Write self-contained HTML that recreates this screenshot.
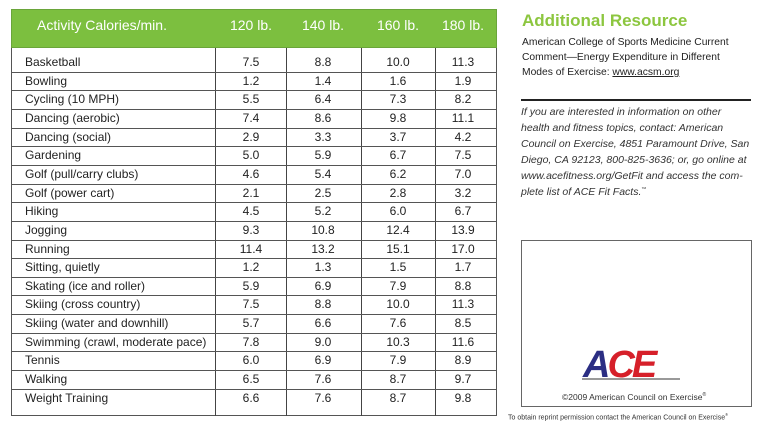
<!DOCTYPE html>
<html><head><style>
body{margin:0;width:768px;height:436px;background:#fff;position:relative;overflow:hidden;font-family:"Liberation Sans",sans-serif;color:#222}
.a{position:absolute;white-space:nowrap}
.hdr{position:absolute;left:11px;top:9px;width:486px;height:39px;background:#7cbf3f;border:1px solid #6aa53a;box-sizing:border-box}
.ht{position:absolute;top:17px;color:#fff;font-size:14px;transform:translateX(-50%)}
.tb{position:absolute;left:11px;top:48px;width:486px;height:368px;border:1px solid #555;border-top:none;box-sizing:border-box}
.vl{position:absolute;top:48px;height:368px;width:1px;background:#444}
.hl{position:absolute;left:11px;width:486px;height:1px;background:#555}
.c{position:absolute;font-size:12px;transform:translateX(-50%)}
.n{position:absolute;left:25px;font-size:12px}
.r{font-size:10.3px;color:#222;left:522px}
.i{font-size:10.5px;font-style:italic;color:#333;left:521px}
</style></head><body>
<div class="hdr"></div>
<div class="a ht" style="left:102px">Activity Calories/min.</div>
<div class="a ht" style="left:251px">120 lb.</div>
<div class="a ht" style="left:323px">140 lb.</div>
<div class="a ht" style="left:398px">160 lb.</div>
<div class="a ht" style="left:463px">180 lb.</div>
<div class="tb"></div>
<div class="vl" style="left:215px"></div>
<div class="vl" style="left:286px"></div>
<div class="vl" style="left:361px"></div>
<div class="vl" style="left:435px"></div>
<div id="rows"></div>
<script>
var d=[["Basketball","7.5","8.8","10.0","11.3"],["Bowling","1.2","1.4","1.6","1.9"],["Cycling (10 MPH)","5.5","6.4","7.3","8.2"],["Dancing (aerobic)","7.4","8.6","9.8","11.1"],["Dancing (social)","2.9","3.3","3.7","4.2"],["Gardening","5.0","5.9","6.7","7.5"],["Golf (pull/carry clubs)","4.6","5.4","6.2","7.0"],["Golf (power cart)","2.1","2.5","2.8","3.2"],["Hiking","4.5","5.2","6.0","6.7"],["Jogging","9.3","10.8","12.4","13.9"],["Running","11.4","13.2","15.1","17.0"],["Sitting, quietly","1.2","1.3","1.5","1.7"],["Skating (ice and roller)","5.9","6.9","7.9","8.8"],["Skiing (cross country)","7.5","8.8","10.0","11.3"],["Skiing (water and downhill)","5.7","6.6","7.6","8.5"],["Swimming (crawl, moderate pace)","7.8","9.0","10.3","11.6"],["Tennis","6.0","6.9","7.9","8.9"],["Walking","6.5","7.6","8.7","9.7"],["Weight Training","6.6","7.6","8.7","9.8"]];
var xs=[251,323,398,463],h="";
for(var k=0;k<d.length;k++){var t=53+18.65*k;
if(k>0)h+='<div class="hl" style="top:'+t.toFixed(1)+'px"></div>';
h+='<div class="a n" style="top:'+(t+2).toFixed(1)+'px">'+d[k][0]+'</div>';
for(var j=0;j<4;j++)h+='<div class="a c" style="left:'+xs[j]+'px;top:'+(t+2).toFixed(1)+'px">'+d[k][j+1]+'</div>';}
document.getElementById('rows').innerHTML=h;
</script>
<div class="a" style="left:522px;top:11px;font-size:17px;font-weight:bold;color:#8cc63f">Additional Resource</div>
<div class="a r" style="top:37px">American College of Sports Medicine Current</div>
<div class="a r" style="top:52px">Comment—Energy Expenditure in Different</div>
<div class="a r" style="top:67px">Modes of Exercise: <u>www.acsm.org</u></div>
<div class="a" style="left:521px;top:99px;width:230px;height:2px;background:#222"></div>
<div class="a i" style="top:106px">If you are interested in information on other</div>
<div class="a i" style="top:122px">health and fitness topics, contact: American</div>
<div class="a i" style="top:138px">Council on Exercise, 4851 Paramount Drive, San</div>
<div class="a i" style="top:154px">Diego, CA 92123, 800-825-3636; or, go online at</div>
<div class="a i" style="top:170px">www.acefitness.org/GetFit and access the com-</div>
<div class="a i" style="top:186px">plete list of ACE Fit Facts.<sup style="font-size:5px">™</sup></div>
<div class="a" style="left:521px;top:240px;width:231px;height:167px;border:1px solid #666;box-sizing:border-box"></div>
<div class="a" style="left:583px;top:344px;font-size:38px;font-weight:bold;font-style:italic;letter-spacing:-3px"><span style="color:#2b2e83">A</span><span style="color:#d6202a">CE</span></div>
<div class="a" style="left:582px;top:378px;width:98px;height:2px;background:#999"></div>
<div class="a" style="left:562px;top:392px;font-size:8.5px;color:#333">©2009 American Council on Exercise<sup style="font-size:5px">®</sup></div>
<div class="a" style="left:508px;top:412px;font-size:7px;color:#333">To obtain reprint permission contact the American Council on Exercise<sup style="font-size:4px">®</sup></div>
</body></html>
